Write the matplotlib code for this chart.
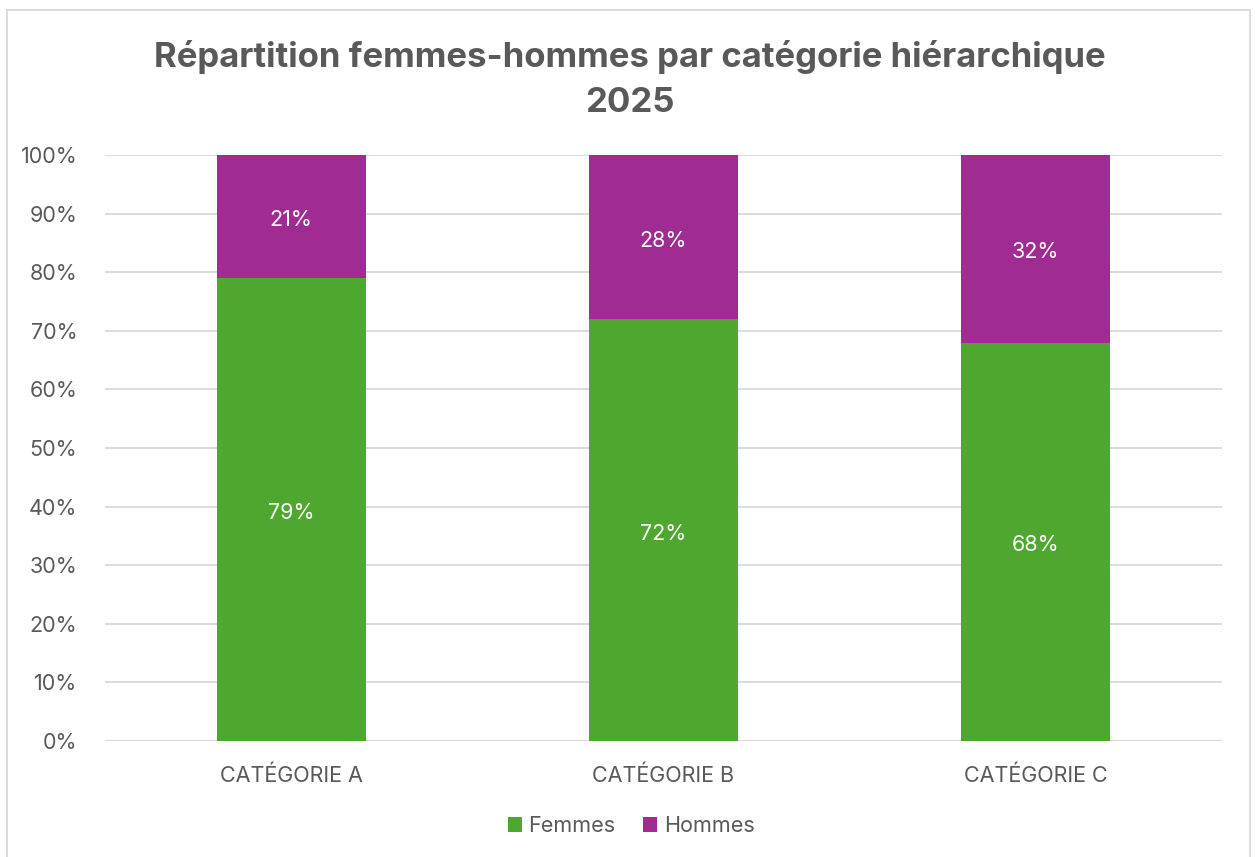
import matplotlib.pyplot as plt
from matplotlib.patches import Rectangle
import numpy as np

plt.rcParams['font.family'] = ['Inter', 'DejaVu Sans']

categories = ['CATÉGORIE A', 'CATÉGORIE B', 'CATÉGORIE C']
femmes = [79, 72, 68]
hommes = [21, 28, 32]

green = '#4EA72E'
purple = '#A02B93'
text_gray = '#595959'
grid_gray = '#D9D9D9'

fig = plt.figure(figsize=(12.55, 8.57), dpi=100)
ax = fig.add_axes([0.0837, 0.1354, 0.89, 0.6837])

x = np.arange(len(categories))
b1 = ax.bar(x, femmes, width=0.4, color=green, label='Femmes', zorder=3)
b2 = ax.bar(x, hommes, width=0.4, bottom=femmes, color=purple, label='Hommes', zorder=3)

# labels in the middle of each segment
for bars, vals in [(b1, femmes), (b2, hommes)]:
    for rect, v in zip(bars, vals):
        cy = rect.get_y() + rect.get_height() / 2
        ax.text(rect.get_x() + rect.get_width() / 2, cy - 0.6, '{}%'.format(v),
                ha='center', va='center', color='white', fontsize=15.5, zorder=4)

ax.set_xlim(-0.5, len(categories) - 0.5)
ax.set_ylim(0, 100)
ax.set_yticks(range(0, 101, 10))
ax.set_yticklabels(['{}%'.format(t) for t in range(0, 101, 10)])
ax.set_xticks(x)
ax.set_xticklabels(categories)
ax.tick_params(axis='both', length=0, labelsize=15.5, colors=text_gray)
ax.tick_params(axis='y', pad=20)
ax.tick_params(axis='x', pad=18)
ax.yaxis.grid(True, color=grid_gray, linewidth=1.3, zorder=0)
for s in ax.spines.values():
    s.set_visible(False)
ax.axhline(0, color=grid_gray, linewidth=1.5, zorder=2)

fig.text(0.502, 0.933, 'Répartition femmes-hommes par catégorie hiérarchique',
         ha='center', va='center', fontsize=25, fontweight='bold', color=text_gray)
fig.text(0.502, 0.880, '2025', ha='center', va='center',
         fontsize=25, fontweight='bold', color=text_gray)

leg = fig.legend(handles=[b1, b2], labels=['Femmes', 'Hommes'], loc='center',
                 bbox_to_anchor=(0.503, 0.036), ncol=2, frameon=False,
                 fontsize=15.5, handlelength=0.65, handleheight=0.65,
                 handletextpad=0.3, columnspacing=1.3)
for t in leg.get_texts():
    t.set_color(text_gray)

fig.patches.append(Rectangle((0.0056, -0.01), 0.9905, 0.998, transform=fig.transFigure,
                             fill=False, edgecolor=grid_gray, linewidth=1.3))

fig.savefig('out.png', dpi=100, facecolor='white')
